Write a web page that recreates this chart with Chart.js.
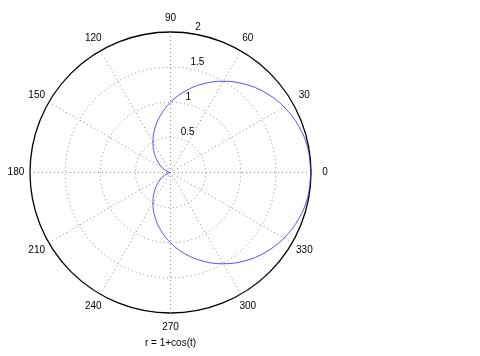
<!DOCTYPE html>
<html>
<head>
<meta charset="utf-8">
<script src="https://cdn.jsdelivr.net/npm/chart.js@4/dist/chart.umd.min.js"></script>
<style>
html,body{margin:0;padding:0;background:#fff;}
#wrap{width:480px;height:356px;}
</style>
</head>
<body>
<div id="wrap"><canvas id="c" width="480" height="356"></canvas></div>
<script>
// Data: angle (degrees) and radius of the curve r = 1+cos(t)
const thetaDeg = [0,10,20,30,40,50,60,70,80,90,100,110,120,130,140,150,160,170,180,
                  190,200,210,220,230,240,250,260,270,280,290,300,310,320,330,340,350,360];
const radius = [2.000,1.985,1.940,1.866,1.766,1.643,1.500,1.342,1.174,1.000,0.826,0.658,0.500,0.357,0.234,0.134,0.060,0.015,0.000,
                0.015,0.060,0.134,0.234,0.357,0.500,0.658,0.826,1.000,1.174,1.342,1.500,1.643,1.766,1.866,1.940,1.985,2.000];
const ringTicks = [0.5, 1, 1.5, 2];
const angleTicks = [0,30,60,90,120,150,180,210,240,270,300,330];
const rMax = 2;
const xLabel = 'r = 1+cos(t)';

const pts = thetaDeg.map((t, i) => ({
  x: radius[i] * Math.cos(t * Math.PI / 180),
  y: radius[i] * Math.sin(t * Math.PI / 180)
}));

const FONT = '10px "Liberation Sans", Arial, Helvetica, sans-serif';

const polarGrid = {
  id: 'polarGrid',
  beforeDatasetsDraw(chart) {
    const ctx = chart.ctx;
    const xs = chart.scales.x, ys = chart.scales.y;
    const P = (r, deg) => {
      const a = deg * Math.PI / 180;
      return [xs.getPixelForValue(r * Math.cos(a)), ys.getPixelForValue(r * Math.sin(a))];
    };
    const cx = xs.getPixelForValue(0), cy = ys.getPixelForValue(0);
    const R = xs.getPixelForValue(rMax) - cx;
    ctx.save();
    // outer solid circle
    ctx.beginPath();
    ctx.arc(cx, cy, R, 0, Math.PI * 2);
    ctx.fillStyle = '#fff';
    ctx.fill();
    ctx.strokeStyle = '#000';
    ctx.lineWidth = 1.3;
    ctx.stroke();
    // dotted rings
    ctx.setLineDash([1, 3]);
    ctx.strokeStyle = '#8a8a8a';
    ctx.lineWidth = 1;
    ringTicks.forEach(r => {
      if (r >= rMax) return;
      const rp = xs.getPixelForValue(r) - cx;
      ctx.beginPath();
      ctx.arc(cx, cy, rp, 0, Math.PI * 2);
      ctx.stroke();
    });
    // spokes
    angleTicks.forEach(d => {
      if (d >= 180) return;
      const a = P(rMax, d), b = P(rMax, d + 180);
      ctx.beginPath();
      ctx.moveTo(a[0], a[1]);
      ctx.lineTo(b[0], b[1]);
      ctx.stroke();
    });
    ctx.setLineDash([]);
    // angle labels
    ctx.fillStyle = '#000';
    ctx.font = FONT;
    ctx.textAlign = 'center';
    ctx.textBaseline = 'middle';
    angleTicks.forEach(d => {
      const p = P(rMax * 1.1, d);
      ctx.fillText(String(d), p[0], p[1]);
    });
    // ring labels along 82 degrees
    ctx.textAlign = 'left';
    ctx.textBaseline = 'bottom';
    ringTicks.forEach(r => {
      const p = P(r + 0.5 / 20, 82);
      ctx.fillText(String(r), p[0] + 5, p[1] + 1);
    });
    // x label
    ctx.textAlign = 'center';
    ctx.textBaseline = 'middle';
    ctx.fillText(xLabel, cx, ys.getPixelForValue(-rMax) + 30);
    ctx.restore();
  }
};

new Chart(document.getElementById('c'), {
  type: 'scatter',
  data: {
    datasets: [{
      data: pts,
      showLine: true,
      borderColor: 'rgb(40,40,255)',
      borderWidth: 0.8,
      pointRadius: 0,
      tension: 0.4,
      fill: false,
      clip: false
    }]
  },
  options: {
    responsive: false,
    animation: false,
    layout: { padding: { left: 30, right: 169, top: 32, bottom: 43 } },
    scales: {
      x: { type: 'linear', min: -2, max: 2, display: false },
      y: { type: 'linear', min: -2, max: 2, display: false }
    },
    plugins: { legend: { display: false }, tooltip: { enabled: false }, title: { display: false } }
  },
  plugins: [polarGrid]
});
</script>
</body>
</html>
